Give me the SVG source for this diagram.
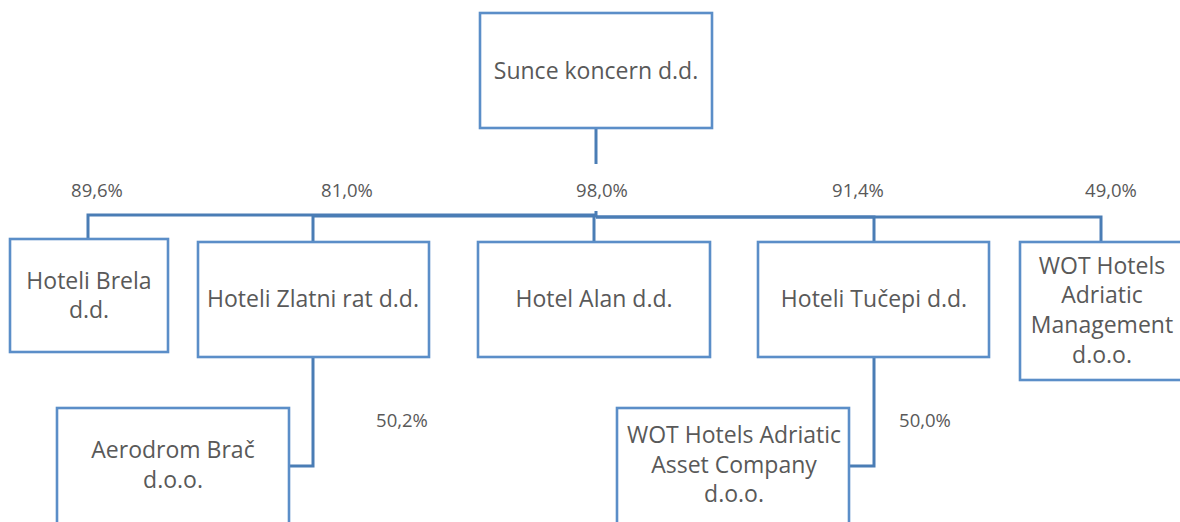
<svg xmlns="http://www.w3.org/2000/svg" width="1180" height="522" viewBox="0 0 1180 522">
<style>
.box{fill:#ffffff;stroke:#5b8ec8;stroke-width:2.6}
.t{font-family:"Open Sans","Liberation Sans",sans-serif;font-size:23px;fill:#595959;text-anchor:middle}
.p{font-family:"Open Sans","Liberation Sans",sans-serif;font-size:18.5px;fill:#595959;text-anchor:middle}
.c{fill:none;stroke:#4a7db5;stroke-width:3}
</style>
<rect width="1180" height="522" fill="#ffffff"/>
<g id="connectors">
<path class="c" d="M596,128 V164"/>
<path class="c" d="M596,211 V215 H88 V239"/>
<path class="c" d="M596,216 H313 V242"/>
<path class="c" d="M594,215 V242"/>
<path class="c" d="M596,217 H874 V242"/>
<path class="c" d="M596,217 H1101 V242"/>
<path class="c" d="M313,357 V466 H289"/>
<path class="c" d="M874,357 V466 H849"/>
</g>
<g id="labels">
<text class="p" x="97" y="197">89,6%</text>
<text class="p" x="347" y="197">81,0%</text>
<text class="p" x="602" y="197">98,0%</text>
<text class="p" x="858" y="197">91,4%</text>
<text class="p" x="1111" y="197">49,0%</text>
<text class="p" x="402" y="427">50,2%</text>
<text class="p" x="925" y="427">50,0%</text>
</g>
<g id="sunce">
<rect class="box" x="480" y="13" width="232" height="115"/>
<text class="t" x="596" y="79">Sunce koncern d.d.</text>
</g>
<g id="brela">
<rect class="box" x="10" y="239" width="158" height="113"/>
<text class="t" x="89" y="289">Hoteli Brela</text>
<text class="t" x="89" y="318">d.d.</text>
</g>
<g id="zlatni">
<rect class="box" x="198" y="242" width="231" height="115"/>
<text class="t" x="313" y="307">Hoteli Zlatni rat d.d.</text>
</g>
<g id="alan">
<rect class="box" x="478" y="242" width="232" height="115"/>
<text class="t" x="594" y="307">Hotel Alan d.d.</text>
</g>
<g id="tucepi">
<rect class="box" x="758" y="242" width="231" height="115"/>
<text class="t" x="874" y="307">Hoteli Tučepi d.d.</text>
</g>
<g id="wotmgmt">
<rect class="box" x="1020" y="242" width="162" height="138"/>
<text class="t" x="1102" y="274">WOT Hotels</text>
<text class="t" x="1102" y="303">Adriatic</text>
<text class="t" x="1102" y="333">Management</text>
<text class="t" x="1102" y="363">d.o.o.</text>
</g>
<g id="aerodrom">
<rect class="box" x="57" y="408" width="232" height="130"/>
<text class="t" x="173" y="458">Aerodrom Brač</text>
<text class="t" x="173" y="488">d.o.o.</text>
</g>
<g id="wotasset">
<rect class="box" x="617" y="408" width="232" height="130"/>
<text class="t" x="734" y="443">WOT Hotels Adriatic</text>
<text class="t" x="734" y="473">Asset Company</text>
<text class="t" x="734" y="502">d.o.o.</text>
</g>
</svg>
